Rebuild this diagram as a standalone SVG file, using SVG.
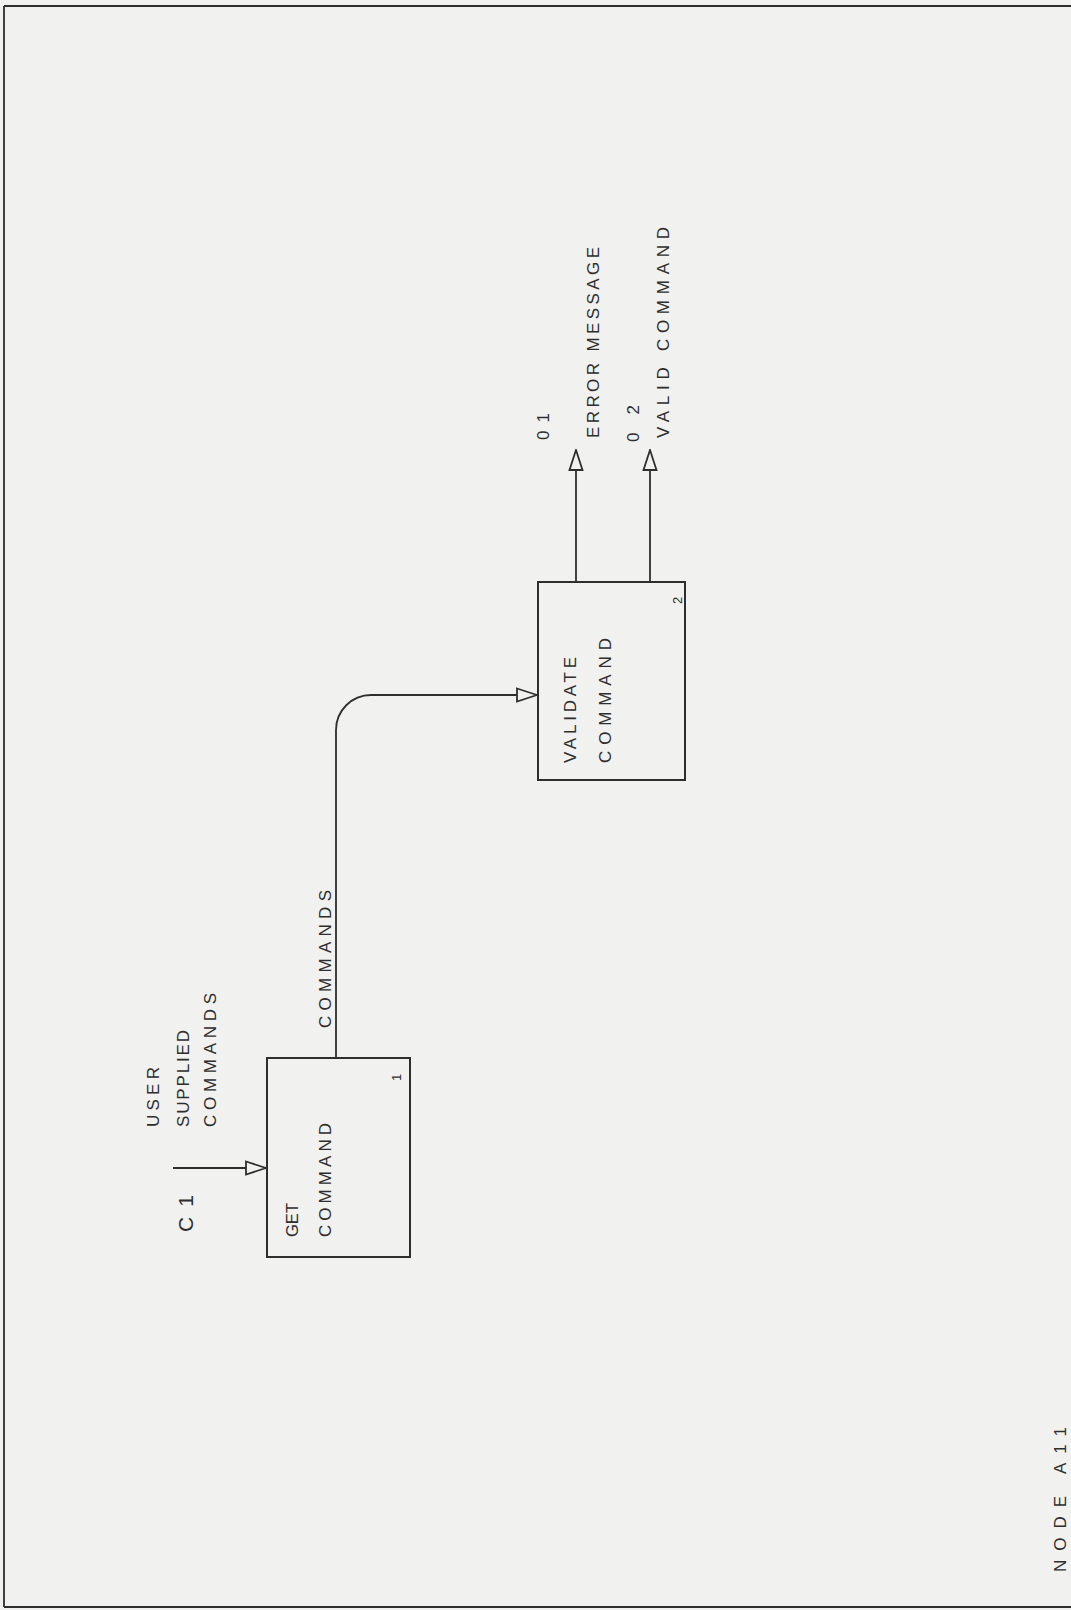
<svg xmlns="http://www.w3.org/2000/svg" width="1071" height="1610" viewBox="0 0 1071 1610">
<style>
.box{fill:none;stroke:#2e2e2e;stroke-width:2}
.ln{fill:none;stroke:#2e2e2e;stroke-width:1.8}
.t{font-family:"Liberation Sans",Arial,sans-serif;font-size:17px;fill:#2e2e2e}
.big{font-size:21px}
.sm{font-size:13px}
</style>
<defs>
<marker id="oa" viewBox="0 0 22 16" refX="21" refY="8" markerWidth="22" markerHeight="16" markerUnits="userSpaceOnUse" orient="auto">
<path d="M1,1.5 L21,8 L1,14.5 Z" fill="#f1f1ef" stroke="#2e2e2e" stroke-width="1.8"/>
</marker>
</defs>
<rect width="1071" height="1610" fill="#f1f1ef"/>
<g id="frame">
<path class="ln" d="M4,6 H1071 M4,6 V1607 M4,1607 H1071"/>
</g>
<g id="connectors">
<path class="ln" d="M173,1168 H266" marker-end="url(#oa)"/>
<path class="ln" d="M336,1058 V730 A35,35 0 0 1 371,695 H537" marker-end="url(#oa)"/>
<path class="ln" d="M576,582 V450" marker-end="url(#oa)"/>
<path class="ln" d="M650,582 V450" marker-end="url(#oa)"/>
</g>
<g id="node1">
<rect class="box" x="267" y="1058" width="143" height="199"/>
<text class="t" transform="translate(298,1237) rotate(-90)" textLength="34" lengthAdjust="spacingAndGlyphs">GET</text>
<text class="t" transform="translate(331,1237) rotate(-90)" textLength="114" lengthAdjust="spacing">COMMAND</text>
<text class="t sm" transform="translate(401,1081) rotate(-90)">1</text>
</g>
<g id="node2">
<rect class="box" x="538" y="582" width="147" height="198"/>
<text class="t" transform="translate(576,763) rotate(-90)" textLength="106" lengthAdjust="spacing">VALIDATE</text>
<text class="t" transform="translate(611,763) rotate(-90)" textLength="125" lengthAdjust="spacing">COMMAND</text>
<text class="t sm" transform="translate(682,604) rotate(-90)">2</text>
</g>
<g id="labels">
<text class="t big" transform="translate(193,1232) rotate(-90)" textLength="37" lengthAdjust="spacing">C1</text>
<text class="t" transform="translate(159,1127) rotate(-90)" textLength="60" lengthAdjust="spacing">USER</text>
<text class="t" transform="translate(189,1127) rotate(-90)" textLength="97" lengthAdjust="spacing">SUPPLIED</text>
<text class="t" transform="translate(216,1127) rotate(-90)" textLength="134" lengthAdjust="spacing">COMMANDS</text>
<text class="t" transform="translate(331,1028) rotate(-90)" textLength="138" lengthAdjust="spacing">COMMANDS</text>
<text class="t" transform="translate(549,440) rotate(-90)" textLength="27" lengthAdjust="spacing">01</text>
<text class="t" transform="translate(599,438) rotate(-90)" textLength="191" lengthAdjust="spacing">ERROR MESSAGE</text>
<text class="t" transform="translate(639,442) rotate(-90)" textLength="37" lengthAdjust="spacing">02</text>
<text class="t" transform="translate(669,438) rotate(-90)" textLength="211" lengthAdjust="spacing">VALID COMMAND</text>
<text class="t" transform="translate(1066,1572) rotate(-90)" textLength="145" lengthAdjust="spacing">NODE A11</text>
</g>
</svg>
